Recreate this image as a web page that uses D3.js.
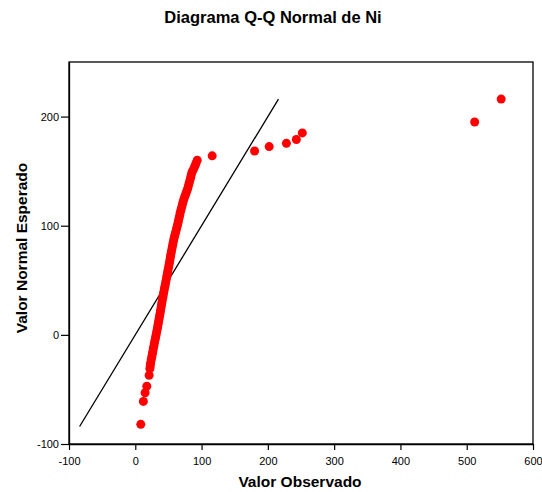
<!DOCTYPE html>
<html>
<head>
<meta charset="utf-8">
<script src="https://cdn.jsdelivr.net/npm/d3@7"></script>
<style>
  body { margin: 0; background: #fff; }
  text { font-family: "Liberation Sans", Arial, sans-serif; }
</style>
</head>
<body>
<svg id="chart"></svg>
<script>
const observed = [
  8.3, 12.2, 14.8, 17.4, 20.9, 22, 22.6, 23, 24, 24.8, 25.6, 26.4, 27.1, 27.9,
  28.7, 29.5, 30.4, 31.2, 32, 32.9, 33.6, 34.4, 35.1, 35.9, 36.6, 37.4, 38,
  38.7, 39.4, 40.1, 40.8, 41.6, 42.3, 43.1, 43.9, 44.7, 45.5, 46.3, 47.1, 47.9,
  48.6, 49.4, 50.2, 51, 51.8, 52.5, 53.2, 53.9, 54.7, 55.5, 56.3, 57.1, 57.9,
  58.9, 60, 61.1, 62.2, 63.2, 64.2, 65.2, 66.1, 67, 67.8, 68.9, 70, 71.1, 72.2,
  73.4, 74.9, 76.4, 77.9, 79.3, 80.3, 81.5, 82.6, 83.6, 84.6, 85.8, 88, 89.8,
  91.5, 93.4, 116, 180, 202, 228, 243, 252, 512, 552
];
const expected = [
  -82, -61, -53, -47, -37, -31, -28.5, -26, -23, -20.5, -18, -15.5, -13, -10.5,
  -8, -5.5, -3, -0.5, 2, 4.5, 7, 9.5, 12, 14.5, 17, 19.5, 22,
  24.5, 27, 29.5, 32, 34.5, 37, 39.5, 42, 44.5, 47, 49.5, 52, 54.5,
  57, 59.5, 62, 64.5, 67, 69.5, 72, 74.5, 77, 79.5, 82, 84.5, 87,
  89.5, 92, 94.5, 97, 99.5, 102, 104.5, 107, 109.5, 112, 114.5, 117, 119.5, 122,
  124.5, 127, 129.5, 132, 134.5, 137, 139.5, 142, 144.5, 147, 149.5, 152, 154.5,
  157, 160, 164, 168.5, 172.5, 175.5, 179, 185, 195, 216
];
const xTicks = [-100, 0, 100, 200, 300, 400, 500, 600];
const yTicks = [-100, 0, 100, 200];
const refLine = [-84, 216]; // y = x reference, spanning the expected values

const width = 542, height = 492;
const margin = { top: 62, right: 9, bottom: 48, left: 69 };

const svg = d3.select('#chart')
  .attr('width', width)
  .attr('height', height);

const x = d3.scaleLinear()
  .domain([-100, 600])
  .range([margin.left, width - margin.right]);

const y = d3.scaleLinear()
  .domain([-100, 250])
  .range([height - margin.bottom, margin.top]);

// frame
svg.append('rect')
  .attr('x', margin.left)
  .attr('y', margin.top)
  .attr('width', width - margin.left - margin.right)
  .attr('height', height - margin.top - margin.bottom)
  .attr('fill', 'none')
  .attr('stroke', '#000')
  .attr('stroke-width', 1.3);

const plain = d => String(d); // keep the ascii hyphen as in the original

const xAxis = svg.append('g')
  .attr('transform', `translate(0,${height - margin.bottom})`)
  .call(d3.axisBottom(x).tickValues(xTicks).tickFormat(plain)
    .tickSize(6).tickPadding(7).tickSizeOuter(0));

const yAxis = svg.append('g')
  .attr('transform', `translate(${margin.left},0)`)
  .call(d3.axisLeft(y).tickValues(yTicks).tickFormat(plain)
    .tickSize(8).tickPadding(2).tickSizeOuter(0));

[xAxis, yAxis].forEach(g => {
  g.select('.domain').attr('stroke-width', 1.3);
  g.selectAll('.tick line').attr('stroke-width', 1.2);
  g.selectAll('.tick text')
    .attr('font-size', 11)
    .attr('fill', '#000')
    .attr('font-family', '"Liberation Sans", Arial, sans-serif');
});

// reference line
svg.append('line')
  .attr('x1', x(refLine[0]))
  .attr('y1', y(refLine[0]))
  .attr('x2', x(refLine[1]))
  .attr('y2', y(refLine[1]))
  .attr('stroke', '#000')
  .attr('stroke-width', 1.3);

// points
svg.append('g')
  .selectAll('circle')
  .data(observed.map((d, i) => ({ obs: d, exp: expected[i] })))
  .enter()
  .append('circle')
  .attr('cx', d => x(d.obs))
  .attr('cy', d => y(d.exp))
  .attr('r', 4.5)
  .attr('fill', '#ff0000');

// titles
svg.append('text')
  .attr('x', 273)
  .attr('y', 23)
  .attr('text-anchor', 'middle')
  .attr('font-size', 16.5)
  .attr('font-weight', 'bold')
  .text('Diagrama Q-Q Normal de Ni');

svg.append('text')
  .attr('x', 300)
  .attr('y', 487)
  .attr('text-anchor', 'middle')
  .attr('font-size', 15.5)
  .attr('font-weight', 'bold')
  .text('Valor Observado');

svg.append('text')
  .attr('transform', 'translate(27,248) rotate(-90)')
  .attr('text-anchor', 'middle')
  .attr('font-size', 15.5)
  .attr('font-weight', 'bold')
  .text('Valor Normal Esperado');
</script>
</body>
</html>
